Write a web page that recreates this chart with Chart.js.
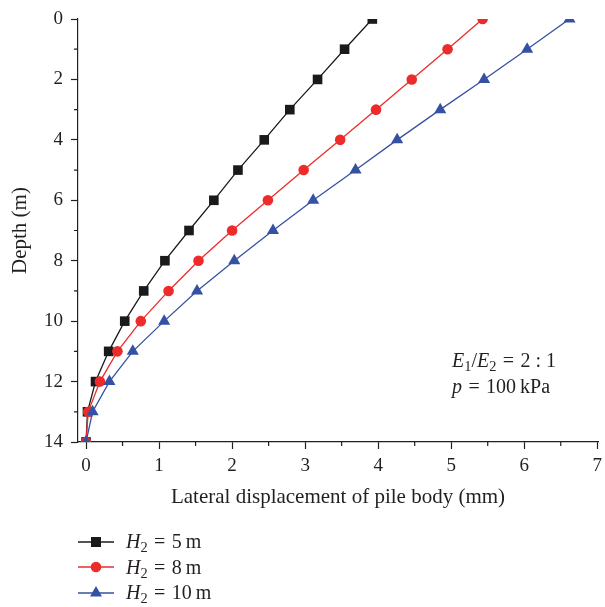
<!DOCTYPE html>
<html>
<head>
<meta charset="utf-8">
<script src="https://cdn.jsdelivr.net/npm/chart.js@4"></script>
<style>
  html, body { margin: 0; padding: 0; background: #fff; }
  #wrap { position: relative; width: 605px; height: 607px; font-family: 'Liberation Serif', serif; color: #231f20; }
  #chart { position: absolute; left: 0; top: 0; }
  .note { position: absolute; left: 452px; top: 347px; font-size: 20px; line-height: 26px; white-space: nowrap; }
  .legend { position: absolute; left: 78px; top: 529px; font-size: 20px; }
  .legend-row { display: flex; align-items: center; height: 25.5px; white-space: nowrap; }
  .legend-row svg { margin-right: 12px; }
  .eq { margin: 0 0.32em; }
  sub { font-size: 0.72em; vertical-align: -0.3em; line-height: 0; }
</style>
</head>
<body>
<div id="wrap">
  <canvas id="chart" width="605" height="607"></canvas>
  <div class="note">
    <div><i>E</i><sub>1</sub>/<i>E</i><sub>2</sub><span class="eq">=</span>2 : 1</div>
    <div><i>p</i><span class="eq">=</span>100&thinsp;kPa</div>
  </div>
  <div class="legend" id="legend"></div>
</div>
<script>
const depths = [0, 1, 2, 3, 4, 5, 6, 7, 8, 9, 10, 11, 12, 13, 14];
const dispH5 = [3.92, 3.54, 3.17, 2.79, 2.44, 2.08, 1.75, 1.41, 1.08, 0.79, 0.53, 0.31, 0.13, 0.02, 0];
const dispH8 = [5.43, 4.95, 4.46, 3.97, 3.48, 2.98, 2.49, 2.00, 1.54, 1.13, 0.75, 0.43, 0.19, 0.03, 0];
const dispH10 = [6.62, 6.04, 5.45, 4.85, 4.26, 3.69, 3.11, 2.56, 2.03, 1.52, 1.07, 0.64, 0.32, 0.09, 0];
const seriesNames = ['5 m', '8 m', '10 m'];

const xMajorTicks = [0, 1, 2, 3, 4, 5, 6, 7];
const xMinorTicks = [0.5, 1.5, 2.5, 3.5, 4.5, 5.5, 6.5];
const yMajorTicks = [0, 2, 4, 6, 8, 10, 12, 14];
const yMinorTicks = [1, 3, 5, 7, 9, 11, 13];

const axisColor = '#231f20';
const fontFamily = "'Liberation Serif', serif";

function toPoints(values) {
  return values.map((x, i) => ({ x, y: depths[i] }));
}

const seriesStyles = [
  { color: '#1a1a1a', pointStyle: 'rect', radius: 6.8, order: 2 },
  { color: '#ee2b2b', pointStyle: 'circle', radius: 5.3, order: 1 },
  { color: '#3551a3', pointStyle: 'triangle', radius: 7, order: 0 }
];
const seriesValues = [dispH5, dispH8, dispH10];

const minorTicks = {
  id: 'minorTicks',
  afterDraw(chart) {
    const { ctx, chartArea, scales: { x, y } } = chart;
    ctx.save();
    ctx.strokeStyle = axisColor;
    ctx.lineWidth = 1.2;
    ctx.beginPath();
    xMinorTicks.forEach((v) => {
      const px = x.getPixelForValue(v);
      ctx.moveTo(px, chartArea.bottom);
      ctx.lineTo(px, chartArea.bottom + 4);
    });
    yMinorTicks.forEach((v) => {
      const py = y.getPixelForValue(v);
      ctx.moveTo(chartArea.left, py);
      ctx.lineTo(chartArea.left - 4, py);
    });
    ctx.stroke();
    ctx.restore();
  }
};

new Chart(document.getElementById('chart'), {
  type: 'line',
  data: {
    datasets: seriesValues.map((values, i) => ({
      label: seriesNames[i],
      data: toPoints(values),
      borderColor: seriesStyles[i].color,
      backgroundColor: seriesStyles[i].color,
      pointBackgroundColor: seriesStyles[i].color,
      pointBorderColor: seriesStyles[i].color,
      pointBorderWidth: 0,
      pointStyle: seriesStyles[i].pointStyle,
      pointRadius: seriesStyles[i].radius,
      borderWidth: 1.3,
      tension: 0,
      fill: false,
      order: seriesStyles[i].order
    }))
  },
  options: {
    responsive: false,
    animation: false,
    layout: { padding: { left: 0, top: 19, right: 5, bottom: 97 } },
    plugins: { legend: { display: false }, tooltip: { enabled: false } },
    scales: {
      x: {
        type: 'linear',
        min: -0.11,
        max: 7.01,
        afterBuildTicks: (scale) => { scale.ticks = xMajorTicks.map((value) => ({ value })); },
        afterFit: (scale) => {
          scale.height = 68;
          scale.paddingLeft = 0;
          scale.paddingRight = 0;
        },
        border: { color: axisColor, width: 1.2 },
        grid: { drawOnChartArea: false, tickLength: 7, tickColor: axisColor, tickWidth: 1.2 },
        ticks: { color: axisColor, padding: 6, font: { family: fontFamily, size: 19 } },
        title: {
          display: true,
          text: 'Lateral displacement of pile body (mm)',
          color: axisColor,
          padding: 0,
          font: { family: fontFamily, size: 21 }
        }
      },
      y: {
        type: 'linear',
        reverse: true,
        min: 0,
        max: 14,
        afterBuildTicks: (scale) => { scale.ticks = yMajorTicks.map((value) => ({ value })); },
        afterFit: (scale) => {
          scale.width = 78;
          scale.paddingTop = 0;
          scale.paddingBottom = 0;
        },
        border: { color: axisColor, width: 1.2 },
        grid: { drawOnChartArea: false, tickLength: 7, tickColor: axisColor, tickWidth: 1.2 },
        ticks: { color: axisColor, padding: 8, font: { family: fontFamily, size: 19 } },
        title: {
          display: true,
          text: 'Depth (m)',
          color: axisColor,
          padding: { top: 8, bottom: 0 },
          font: { family: fontFamily, size: 21 }
        }
      }
    }
  },
  plugins: [minorTicks]
});

function legendIcon(style) {
  const c = style.color;
  let marker = '';
  if (style.pointStyle === 'rect') {
    marker = `<rect x="13" y="3" width="10" height="10" fill="${c}"/>`;
  } else if (style.pointStyle === 'circle') {
    marker = `<circle cx="18" cy="8" r="5.3" fill="${c}"/>`;
  } else {
    marker = `<polygon points="18,1 24,11.5 12,11.5" fill="${c}"/>`;
  }
  return `<svg width="36" height="16" viewBox="0 0 36 16"><line x1="0" y1="8" x2="36" y2="8" stroke="${c}" stroke-width="1.3"/>${marker}</svg>`;
}

document.getElementById('legend').innerHTML = seriesNames.map((name, i) =>
  `<div class="legend-row">${legendIcon(seriesStyles[i])}<span><i>H</i><sub>2</sub><span class="eq">=</span>${name.replace(' ', '&thinsp;')}</span></div>`
).join('');
</script>
</body>
</html>
